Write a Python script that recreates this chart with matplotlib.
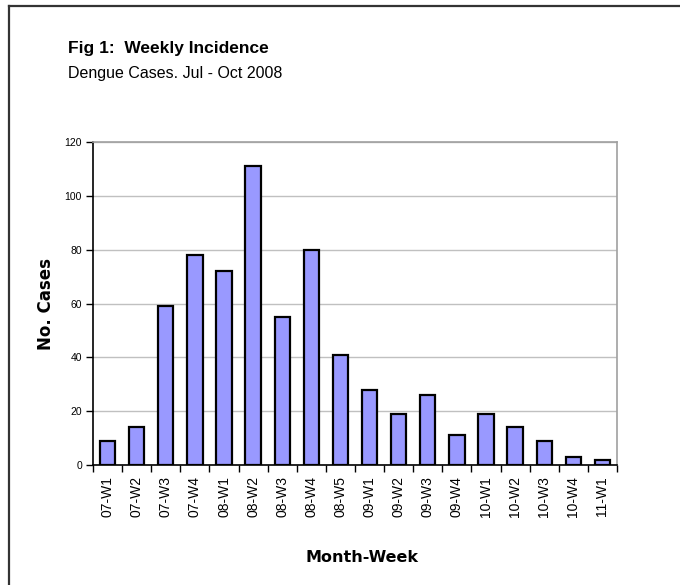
import numpy as np
import matplotlib
matplotlib.use("Agg")
import matplotlib.pyplot as plt
from matplotlib.lines import Line2D

plt.rcParams["font.family"] = ["Liberation Sans", "DejaVu Sans"]

# weekly dengue counts, Jul - Oct 2008
weeks = ["07-W1", "07-W2", "07-W3", "07-W4",
         "08-W1", "08-W2", "08-W3", "08-W4", "08-W5",
         "09-W1", "09-W2", "09-W3", "09-W4",
         "10-W1", "10-W2", "10-W3", "10-W4", "11-W1"]
cases = [9, 14, 59, 78, 72, 111, 55, 80, 41, 28, 19, 26, 11, 19, 14, 9, 3, 2]

fig = plt.figure(figsize=(6.8, 5.85), dpi=100)
W, H = 680, 585

# frame around the figure (only top and left edges fall inside)
fig.add_artist(Line2D([9 / W, 9 / W], [0, 1 - 6 / H], color="#333333", lw=1.6))
fig.add_artist(Line2D([9 / W, 1], [1 - 6 / H, 1 - 6 / H], color="#333333", lw=1.6))

ax = fig.add_axes([93 / W, 1 - 465 / H, (617 - 93) / W, (465 - 142) / H])

x = np.arange(len(weeks))
ax.bar(x, cases, width=0.53, color="#9999FF", edgecolor="black", linewidth=1.6, zorder=3)

ax.set_xlim(-0.5, len(weeks) - 0.5)
ax.set_ylim(0, 120)
ax.set_yticks(np.arange(0, 121, 20))
ax.yaxis.grid(True, color="#C0C0C0", linewidth=1.0, zorder=0)

# category labels centred, tick marks between categories
ax.set_xticks(x)
ax.set_xticklabels(weeks, rotation=90, fontsize=10)
ax.set_xticks(np.arange(-0.5, len(weeks)), minor=True)
ax.tick_params(axis="x", which="major", length=0, pad=8)
ax.tick_params(axis="x", which="minor", length=5, width=1, color="black", direction="out")
ax.tick_params(axis="y", length=5, width=1, labelsize=7.5, direction="out", pad=3)

for s in ["top", "right"]:
    ax.spines[s].set_color("#A0A0A0")
    ax.spines[s].set_linewidth(1.2)
for s in ["left", "bottom"]:
    ax.spines[s].set_color("black")
    ax.spines[s].set_linewidth(1.2)

ax.set_ylabel("No. Cases", fontsize=12, fontweight="bold", family="DejaVu Sans")
ax.yaxis.set_label_coords(-38 / (617 - 93), 0.5)
fig.text(362 / W, 1 - 558 / H, "Month-Week", fontsize=11.5, fontweight="bold",
         family="DejaVu Sans", ha="center", va="center")

fig.text(68 / W, 1 - 53 / H, "Fig 1:  Weekly Incidence", fontsize=12.5,
         fontweight="bold", ha="left", va="baseline")
fig.text(68 / W, 1 - 78 / H, "Dengue Cases. Jul - Oct 2008", fontsize=11.5,
         ha="left", va="baseline")

fig.savefig("out.png", dpi=100)
